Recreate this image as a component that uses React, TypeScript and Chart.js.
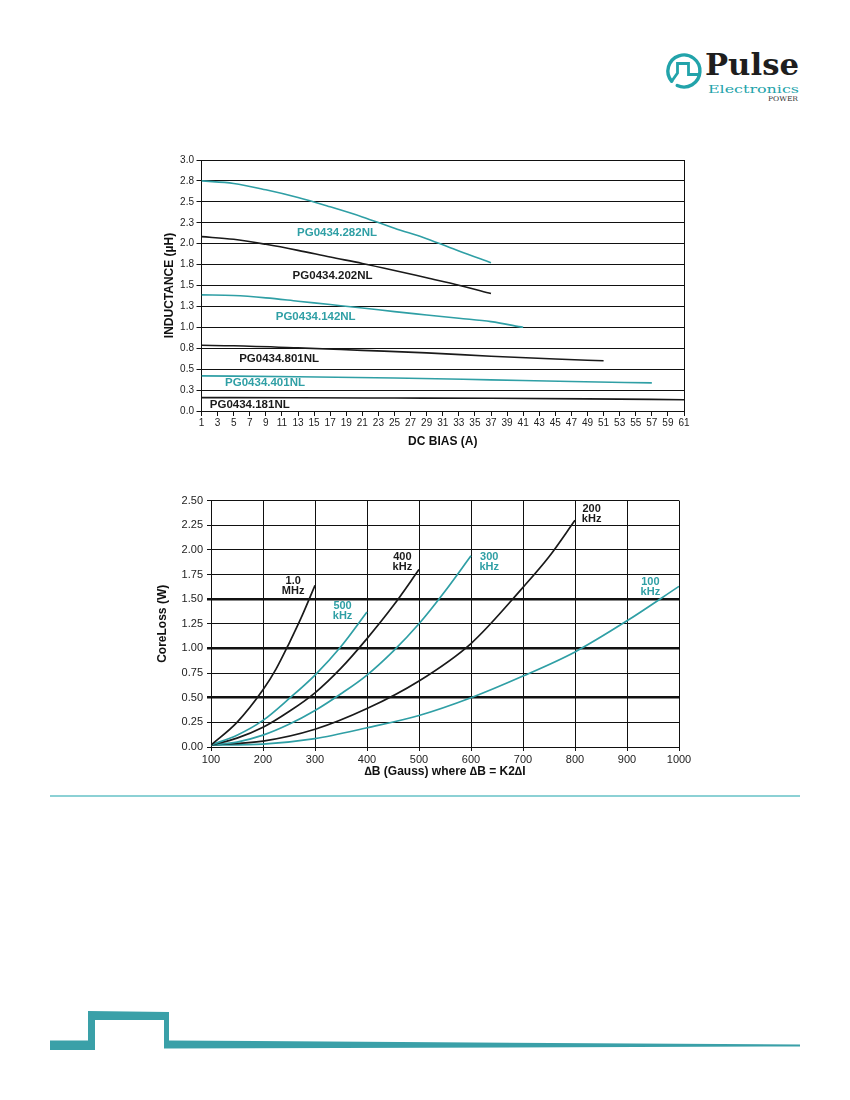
import React, { useEffect, useRef } from "react";
import Chart from "chart.js/auto";

// ---------- Chart 1: Inductance vs DC bias ----------
const biasTicks = ["1","3","5","7","9","11","13","15","17","19","21","23","25","27","29","31","33","35","37","39","41","43","45","47","49","51","53","55","57","59","61"];
const inductanceTicks = ["0.0","0.3","0.5","0.8","1.0","1.3","1.5","1.8","2.0","2.3","2.5","2.8","3.0"];

const x282 = [1, 5, 9, 13, 17, 21, 25, 29, 33, 37];
const y282 = [2.75, 2.72, 2.644, 2.552, 2.44, 2.32, 2.184, 2.06, 1.912, 1.772];
const x202 = [1, 5, 9, 13, 17, 21, 25, 29, 33, 37];
const y202 = [2.084, 2.052, 1.992, 1.92, 1.84, 1.764, 1.68, 1.592, 1.504, 1.404];
const x142 = [1, 5, 9, 13, 17, 21, 25, 29, 33, 37, 41];
const y142 = [1.388, 1.38, 1.352, 1.312, 1.272, 1.232, 1.188, 1.148, 1.108, 1.068, 1.0];
const x801 = [1, 5, 13, 21, 29, 37, 45, 51];
const y801 = [0.785, 0.78, 0.755, 0.725, 0.695, 0.655, 0.622, 0.6];
const x401 = [1, 13, 25, 37, 47, 57];
const y401 = [0.42, 0.41, 0.395, 0.372, 0.352, 0.336];
const x181 = [1, 13, 25, 37, 49, 61];
const y181 = [0.16, 0.158, 0.155, 0.152, 0.145, 0.135];

const partNames = ["PG0434.282NL", "PG0434.202NL", "PG0434.142NL", "PG0434.801NL", "PG0434.401NL", "PG0434.181NL"];
const partLabelX = [17.85, 17.3, 15.2, 10.65, 8.9, 7.0];
const partLabelY = [2.13, 1.61, 1.13, 0.624, 0.332, 0.072];

// ---------- Chart 2: Core loss vs flux ----------
const fluxTicks = ["100","200","300","400","500","600","700","800","900","1000"];
const lossTicks = ["0.00","0.25","0.50","0.75","1.00","1.25","1.50","1.75","2.00","2.25","2.50"];

const x1M = [100, 150, 200, 225, 250, 275, 300];
const y1M = [0.02, 0.25, 0.58, 0.79, 1.05, 1.33, 1.64];
const x500k = [100, 150, 200, 250, 300, 350, 400];
const y500k = [0.02, 0.12, 0.27, 0.49, 0.73, 1.02, 1.37];
const x400k = [100, 150, 200, 250, 300, 350, 400, 450, 500];
const y400k = [0.02, 0.09, 0.2, 0.36, 0.55, 0.8, 1.1, 1.43, 1.8];
const x300k = [100, 150, 200, 250, 300, 350, 400, 450, 500, 550, 600];
const y300k = [0.02, 0.05, 0.12, 0.23, 0.37, 0.54, 0.73, 0.97, 1.25, 1.58, 1.94];
const x200k = [100, 200, 300, 400, 500, 600, 700, 750, 800];
const y200k = [0.02, 0.06, 0.18, 0.39, 0.67, 1.05, 1.62, 1.93, 2.3];
const x100k = [100, 200, 300, 400, 500, 600, 700, 800, 900, 1000];
const y100k = [0.02, 0.03, 0.085, 0.195, 0.32, 0.5, 0.72, 0.965, 1.28, 1.63];

const freqTop = ["1.0", "500", "400", "300", "200", "100"];
const freqBottom = ["MHz", "kHz", "kHz", "kHz", "kHz", "kHz"];
const freqLabelX = [258, 353, 468, 635, 832, 945];
const freqLabelY = [1.684, 1.432, 1.93, 1.93, 2.42, 1.677];

const TEAL = "#2f9fa5";
const BLACK = "#1a1a1a";
const FONT = "'Liberation Sans', Arial, Helvetica, sans-serif";
const NARROW = "'Liberation Sans Narrow', 'Liberation Sans', Arial, sans-serif";

const pts = (xs: number[], ys: number[]) => xs.map((x, i) => ({ x, y: ys[i] }));

const line = (xs: number[], ys: number[], color: string, w: number) => ({
  data: pts(xs, ys),
  borderColor: color,
  backgroundColor: color,
  borderWidth: w,
  pointRadius: 0,
  fill: false,
  cubicInterpolationMode: "monotone" as const,
});

function makeLabelPlugin(id: string, draw: (chart: any) => void) {
  return { id, afterDatasetsDraw: draw };
}

function InductanceChart() {
  const ref = useRef<HTMLCanvasElement>(null);
  useEffect(() => {
    if (!ref.current) return;
    const colors = [TEAL, BLACK, TEAL, BLACK, TEAL, BLACK];
    const chart = new Chart(ref.current, {
      type: "line",
      data: {
        datasets: [
          line(x282, y282, TEAL, 1.6),
          line(x202, y202, BLACK, 1.6),
          line(x142, y142, TEAL, 1.6),
          line(x801, y801, BLACK, 1.6),
          line(x401, y401, TEAL, 1.6),
          line(x181, y181, BLACK, 1.6),
        ] as any,
      },
      options: {
        animation: false,
        responsive: false,
        devicePixelRatio: 1,
        layout: { padding: { top: 10, right: 16, left: 0, bottom: 0 } },
        plugins: { legend: { display: false }, tooltip: { enabled: false } },
        scales: {
          x: {
            type: "linear",
            min: 1,
            max: 61,
            afterFit: (s: any) => { s.height = 49; },
            ticks: {
              stepSize: 2,
              autoSkip: false,
              maxRotation: 0,
              padding: 1.5,
              color: "#222",
              font: { family: NARROW, size: 10 },
              callback: (v: any) => biasTicks[Math.round((Number(v) - 1) / 2)],
            },
            grid: {
              drawOnChartArea: true,
              color: (c: any) => (c.tick && c.tick.value === 61 ? "#111" : "rgba(0,0,0,0)"),
              tickColor: "#111",
              tickLength: 5,
              lineWidth: 1,
            },
            border: { display: true, color: "#111", width: 1 },
            title: {
              display: true,
              text: "DC BIAS (A)",
              color: "#111",
              font: { family: FONT, size: 12, weight: "bold" },
              padding: { top: 0, bottom: 11.5 },
            },
          },
          y: {
            type: "linear",
            min: 0,
            max: 3,
            afterFit: (s: any) => { s.width = 51.5; },
            ticks: {
              stepSize: 0.25,
              padding: 2.5,
              color: "#222",
              font: { family: NARROW, size: 10 },
              callback: (v: any) => inductanceTicks[Math.round(Number(v) / 0.25)],
            },
            grid: { color: "#111", lineWidth: 1, tickLength: 5 },
            border: { display: true, color: "#111", width: 1 },
            title: {
              display: true,
              text: "INDUCTANCE (µH)",
              color: "#111",
              font: { family: FONT, size: 12, weight: "bold" },
              padding: { top: 12.3, bottom: 0 },
            },
          },
        },
      },
      plugins: [
        makeLabelPlugin("partLabels", (ch: any) => {
          const { ctx, scales } = ch;
          ctx.save();
          ctx.font = `bold 11.5px ${FONT}`;
          ctx.textAlign = "center";
          ctx.textBaseline = "middle";
          partNames.forEach((t, i) => {
            ctx.fillStyle = colors[i];
            ctx.fillText(t, scales.x.getPixelForValue(partLabelX[i]), scales.y.getPixelForValue(partLabelY[i]));
          });
          ctx.restore();
        }),
      ],
    } as any);
    return () => chart.destroy();
  }, []);
  return <canvas ref={ref} width={550} height={310} style={{ position: "absolute", left: 150, top: 150, width: 550, height: 310 }} />;
}

function CoreLossChart() {
  const ref = useRef<HTMLCanvasElement>(null);
  useEffect(() => {
    if (!ref.current) return;
    const colors = [BLACK, TEAL, BLACK, TEAL, BLACK, TEAL];
    const chart = new Chart(ref.current, {
      type: "line",
      data: {
        datasets: [
          line(x1M, y1M, BLACK, 1.7),
          line(x500k, y500k, TEAL, 1.7),
          line(x400k, y400k, BLACK, 1.7),
          line(x300k, y300k, TEAL, 1.7),
          line(x200k, y200k, BLACK, 1.7),
          line(x100k, y100k, TEAL, 1.7),
        ] as any,
      },
      options: {
        animation: false,
        responsive: false,
        devicePixelRatio: 1,
        layout: { padding: { top: 9, right: 21, left: 0, bottom: 0 } },
        plugins: { legend: { display: false }, tooltip: { enabled: false } },
        scales: {
          x: {
            type: "linear",
            min: 100,
            max: 1000,
            afterFit: (s: any) => { s.height = 43; },
            ticks: {
              stepSize: 100,
              autoSkip: false,
              maxRotation: 0,
              padding: 2.5,
              color: "#222",
              font: { family: FONT, size: 11 },
              callback: (v: any) => fluxTicks[Math.round((Number(v) - 100) / 100)],
            },
            grid: { color: "#111", tickColor: "#111", tickLength: 4, lineWidth: 1 },
            border: { display: true, color: "#111", width: 1 },
            title: {
              display: true,
              text: "∆B (Gauss) where ∆B = K2∆I",
              color: "#111",
              font: { family: FONT, size: 12, weight: "bold" },
              padding: { top: 0, bottom: 11.5 },
            },
          },
          y: {
            type: "linear",
            min: 0,
            max: 2.5,
            afterFit: (s: any) => { s.width = 61; },
            ticks: {
              stepSize: 0.25,
              padding: 4,
              color: "#222",
              font: { family: FONT, size: 11 },
              callback: (v: any) => lossTicks[Math.round(Number(v) / 0.25)],
            },
            grid: {
              color: "#111",
              tickLength: 4,
              lineWidth: (c: any) => {
                const v = c.tick ? c.tick.value : -1;
                return Math.abs(v - 0.5) < 1e-6 || Math.abs(v - 1) < 1e-6 || Math.abs(v - 1.5) < 1e-6 ? 2.5 : 1;
              },
            },
            border: { display: true, color: "#111", width: 1 },
            title: {
              display: true,
              text: "CoreLoss (W)",
              color: "#111",
              font: { family: FONT, size: 12, weight: "bold" },
              padding: { top: 5.8, bottom: 0 },
            },
          },
        },
      },
      plugins: [
        makeLabelPlugin("freqLabels", (ch: any) => {
          const { ctx, scales } = ch;
          ctx.save();
          ctx.font = `bold 11px ${FONT}`;
          ctx.textAlign = "center";
          ctx.textBaseline = "middle";
          freqTop.forEach((t, i) => {
            const px = scales.x.getPixelForValue(freqLabelX[i]);
            const py = scales.y.getPixelForValue(freqLabelY[i]);
            ctx.fillStyle = colors[i];
            ctx.fillText(t, px, py);
            ctx.fillText(freqBottom[i], px, py + 10);
          });
          ctx.restore();
        }),
      ],
    } as any);
    return () => chart.destroy();
  }, []);
  return <canvas ref={ref} width={550} height={300} style={{ position: "absolute", left: 150, top: 490, width: 550, height: 300 }} />;
}

function Logo() {
  return (
    <svg width={850} height={120} style={{ position: "absolute", left: 0, top: 0 }}>
      <path d="M 671.7 81.3 A 16 16 0 1 1 677.2 85.5" fill="none" stroke="#22a3aa" strokeWidth={3.4} strokeLinecap="round" />
      <polyline points="671.7,81.3 677.5,73 677.5,63.5 688.5,63.5 688.5,74.5 700,74.5" fill="none" stroke="#22a3aa" strokeWidth={2.8} strokeLinejoin="miter" />
      <text x={705} y={75} fontFamily="'DejaVu Serif', serif" fontWeight="bold" fontSize={29} fill="#1e1e1e" textLength={94} lengthAdjust="spacingAndGlyphs">Pulse</text>
      <text x={708} y={92.5} fontFamily="'DejaVu Serif', serif" fontSize={11.5} fill="#22a3aa" textLength={91} lengthAdjust="spacingAndGlyphs">Electronics</text>
      <text x={768} y={101} fontFamily="'DejaVu Serif', serif" fontSize={6.5} fill="#333" textLength={30} lengthAdjust="spacingAndGlyphs">POWER</text>
    </svg>
  );
}

function Footer() {
  return (
    <svg width={850} height={1100} style={{ position: "absolute", left: 0, top: 0, pointerEvents: "none" }}>
      <line x1={50} y1={796} x2={800} y2={796} stroke="#1aa3ab" strokeWidth={1.2} />
      <polygon
        points="50,1040.5 88,1040.5 88,1011 169,1012 169,1040.5 800,1044.5 800,1046.5 164,1048.5 164,1020 95,1020 95,1050 50,1050"
        fill="#3aa0a8"
      />
    </svg>
  );
}

export default function App() {
  return (
    <div style={{ position: "absolute", left: 0, top: 0, width: 850, height: 1100, background: "#fff", overflow: "hidden" }}>
      <Footer />
      <Logo />
      <InductanceChart />
      <CoreLossChart />
    </div>
  );
}
